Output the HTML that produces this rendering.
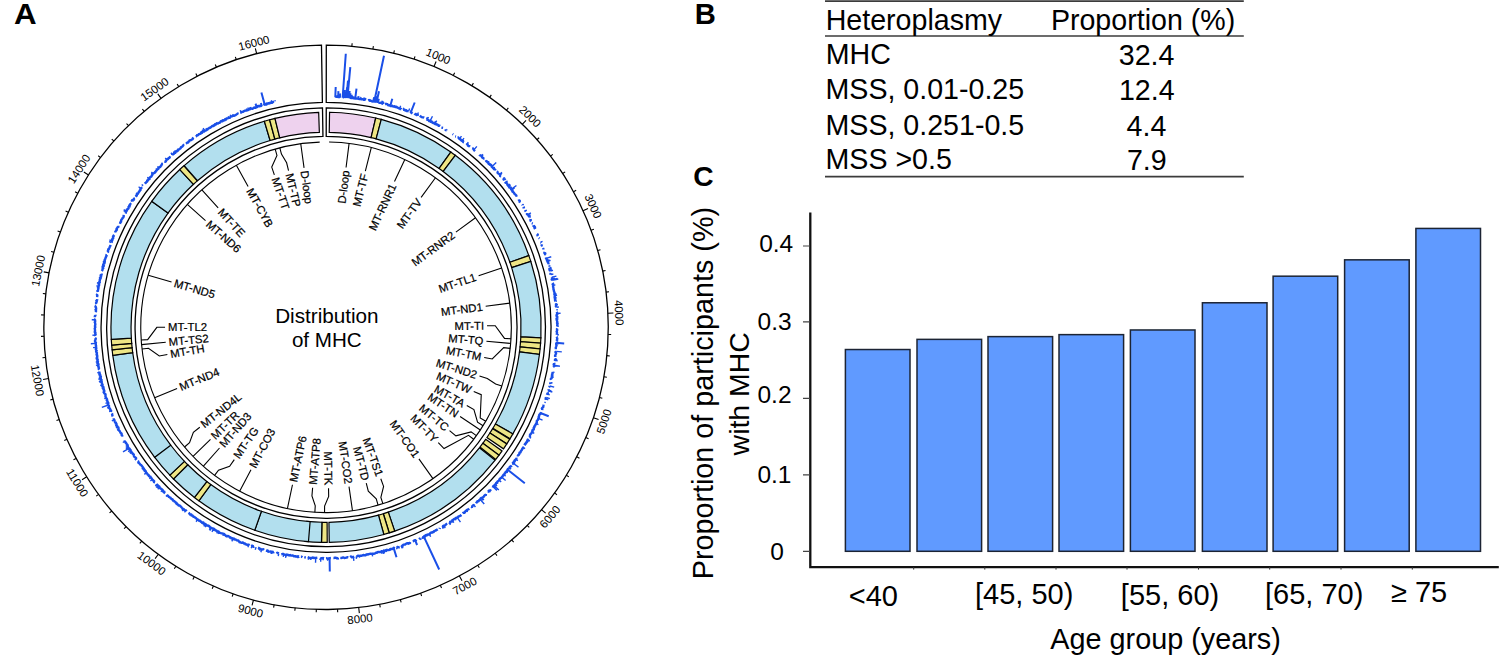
<!DOCTYPE html>
<html><head><meta charset="utf-8"><title>Figure</title>
<style>
html,body{margin:0;padding:0;background:#fff;}
body{width:1500px;height:655px;overflow:hidden;}
svg{display:block;font-family:"Liberation Sans",sans-serif;}
</style></head><body>
<svg width="1500" height="655" viewBox="0 0 1500 655">
<rect width="1500" height="655" fill="#fff"/>
<text transform="translate(14.059 23.8) scale(1.06 1)" font-size="29.6" font-weight="bold">A</text>
<path d="M351.859,46.283L352.133,43.295M372.907,49.017L373.405,46.059M393.69,53.326L394.409,50.414M414.091,59.185L415.027,56.335M433.993,66.56L436.097,61.479M453.285,75.411L454.638,72.733M471.857,85.686L473.407,83.118M489.604,97.329L491.343,94.884M506.426,110.272L508.344,107.965M522.228,124.443L526.051,120.489M536.92,139.761L539.161,137.767M550.419,156.14L552.804,154.321M562.648,173.488L565.163,171.853M573.539,191.706L576.17,190.264M583.031,210.691L588.039,208.418M591.068,230.335L593.885,229.304M597.606,250.528L600.493,249.712M602.608,271.155L605.549,270.558M606.046,292.1L609.023,291.726M607.9,313.244L613.393,312.97M608.159,334.468L611.158,334.544M606.822,355.65L609.807,355.952M603.897,376.673L606.851,377.198M599.401,397.416L602.306,398.162M593.357,417.763L598.567,419.526M585.802,437.598L588.564,438.77M576.778,456.809L579.443,458.186M566.335,475.287L568.889,476.86M554.532,492.928L556.961,494.689M541.437,509.632L545.635,513.186M527.124,525.305L529.262,527.41M511.673,539.858L513.647,542.117M495.173,553.208L496.97,555.61M477.715,565.28L479.327,567.81M459.399,576.006L461.998,580.853M440.33,585.325L441.544,588.068M420.613,593.185L421.619,596.011M400.362,599.54L401.152,602.434M379.69,604.355L380.261,607.3M358.715,607.603L359.352,613.066M337.555,609.265L337.678,612.263M316.33,609.333L316.227,612.331M295.16,607.804L294.832,610.786M274.165,604.689L273.613,607.638M253.463,600.005L252.049,605.32M233.172,593.778L232.185,596.611M213.406,586.044L212.209,588.794M194.278,576.846L192.877,579.498M175.895,566.236L174.299,568.776M158.361,554.274L155.093,558.698M141.776,541.029L139.817,543.301M126.234,526.574L124.109,528.693M111.821,510.993L109.544,512.945M98.621,494.372L96.203,496.148M86.707,476.806L82.043,479.719M76.148,458.394L73.491,459.787M67.001,439.24L64.248,440.43M59.321,419.454L56.485,420.433M53.149,399.146L50.248,399.91M48.521,378.431L43.112,379.428M45.463,357.428L42.48,357.748M43.992,336.254L40.994,336.349M44.117,315.029L41.12,314.899M45.837,293.874L42.858,293.518M49.142,272.907L43.745,271.847M54.013,252.249L51.121,251.451M60.423,232.015L57.599,231.002M68.336,212.32L65.596,211.098M77.707,193.276L75.067,191.851M88.483,174.989L83.852,172.021M100.602,157.565L98.205,155.76M113.997,141.1L111.743,139.121M128.592,125.689L126.493,123.546M144.303,111.418L142.371,109.123M161.043,98.369L157.827,93.907M178.716,86.614L177.15,84.056M197.223,76.222L195.853,73.552M216.458,67.249L215.293,64.485M236.313,59.748L235.359,56.904M256.676,53.76L255.324,48.429" stroke="#000" stroke-width="1.1" fill="none"/>
<text x="438.277" y="56.212" font-size="11.4" text-anchor="middle" dy="0.35em" transform="rotate(22.489 438.277 56.212)">1000</text>
<text x="530.014" y="116.392" font-size="11.4" text-anchor="middle" dy="0.35em" transform="rotate(44.041 530.014 116.392)">2000</text>
<text x="593.23" y="206.063" font-size="11.4" text-anchor="middle" dy="0.35em" transform="rotate(65.593 593.23 206.063)">3000</text>
<text x="619.086" y="312.686" font-size="11.4" text-anchor="middle" dy="0.35em" transform="rotate(87.145 619.086 312.686)">4000</text>
<text x="603.966" y="421.353" font-size="11.4" text-anchor="middle" dy="0.35em" transform="rotate(-71.303 603.966 421.353)">5000</text>
<text x="549.986" y="516.869" font-size="11.4" text-anchor="middle" dy="0.35em" transform="rotate(-49.751 549.986 516.869)">6000</text>
<text x="464.692" y="585.877" font-size="11.4" text-anchor="middle" dy="0.35em" transform="rotate(-28.199 464.692 585.877)">7000</text>
<text x="360.012" y="618.728" font-size="11.4" text-anchor="middle" dy="0.35em" transform="rotate(-6.647 360.012 618.728)">8000</text>
<text x="250.582" y="610.828" font-size="11.4" text-anchor="middle" dy="0.35em" transform="rotate(-345.095 250.582 610.828)">9000</text>
<text x="151.706" y="563.283" font-size="11.4" text-anchor="middle" dy="0.35em" transform="rotate(-323.543 151.706 563.283)">10000</text>
<text x="77.208" y="482.739" font-size="11.4" text-anchor="middle" dy="0.35em" transform="rotate(-301.991 77.208 482.739)">11000</text>
<text x="37.506" y="380.461" font-size="11.4" text-anchor="middle" dy="0.35em" transform="rotate(-280.439 37.506 380.461)">12000</text>
<text x="38.152" y="270.749" font-size="11.4" text-anchor="middle" dy="0.35em" transform="rotate(-78.887 38.152 270.749)">13000</text>
<text x="79.054" y="168.944" font-size="11.4" text-anchor="middle" dy="0.35em" transform="rotate(-57.335 79.054 168.944)">14000</text>
<text x="154.494" y="89.283" font-size="11.4" text-anchor="middle" dy="0.35em" transform="rotate(-35.783 154.494 89.283)">15000</text>
<text x="253.923" y="42.904" font-size="11.4" text-anchor="middle" dy="0.35em" transform="rotate(-14.231 253.923 42.904)">16000</text>
<path d="M335.157,96.527 L335.963,96.547 L336.756,96.864 L337.591,96.295 L338.359,97.038 L339.16,97.131 L340.001,96.567 L340.798,96.743M342.795,97.082 L343.591,97.234 L344.428,96.877 L345.255,96.667 L346.045,96.908 L346.79,97.627M349.384,97.984 L350.233,97.6 L350.992,98.08 L351.814,97.973 L352.694,97.375 L353.394,98.326 L354.202,98.347 L355.003,98.433 L355.792,98.609 L356.611,98.563 L357.414,98.637 L358.224,98.658 L358.98,99.063 L359.8,99.023 L360.602,99.105 L361.39,99.279 L362.219,99.197 L363.034,99.204 L363.762,99.75 L364.572,99.789 L365.483,99.244 L366.269,99.44M368.138,100.433 L369.039,100.006 L369.709,100.794 L370.574,100.571 L371.31,101.001 L372.047,101.419 L372.844,101.538 L373.738,101.202 L374.593,101.058 L375.34,101.424 L375.982,102.255M378.545,102.781 L379.343,102.905 L380.18,102.868 L381.051,102.699 L381.739,103.276 L382.456,103.728 L383.225,103.972M384.99,104.38 L385.975,103.815 L386.716,104.165 L387.522,104.278 L388.083,105.273 L388.912,105.298 L389.793,105.15 L390.399,105.953 L391.226,105.995 L392.128,105.786 L392.805,106.336 L393.606,106.471 L394.51,106.279 L395.112,107.058 L396.038,106.804 L396.842,106.942 L397.456,107.665 L398.211,107.951 L398.945,108.298 L399.753,108.423 L400.384,109.071 L401.232,109.079M403.11,109.811 L403.939,109.884 L404.82,109.818 L405.37,110.665 L406.22,110.688 L406.932,111.087 L407.781,111.12 L408.598,111.24M410.263,112.523 L411.18,112.395 L411.815,112.98 L412.471,113.507M414.454,113.453 L415.06,114.097 L415.948,114.066 L416.368,115.142 L417.379,114.829 L417.84,115.795M419.877,115.667 L420.484,116.289 L421.179,116.71 L421.856,117.171 L422.64,117.396 L423.517,117.42 L424.27,117.719M426.454,119.234 L427.17,119.605 L427.9,119.948 L428.644,120.263 L429.144,121.066 L430.264,120.632 L430.609,121.737 L431.679,121.415 L432.071,122.415 L432.757,122.841 L433.516,123.128 L434.288,123.391 L434.889,123.975 L435.792,123.998 L436.445,124.485 L437.257,124.68 L438.07,124.877 L438.475,125.81 L439.506,125.62 L440.219,125.999M441.401,127.586 L442.25,127.729 L443.082,127.903M445.325,129.263 L445.722,130.165 L446.611,130.254M452.55,134.061 L453.227,134.5M455.167,136.308 L456.012,136.497M457.486,137.553 L458.464,137.56 L458.949,138.274 L459.476,138.925 L460.366,139.065 L460.667,140.03 L461.458,140.309 L462.001,140.933 L463.067,140.842 L463.218,141.995 L464.014,142.275M466.529,143.295 L467.025,143.975 L467.65,144.487 L467.864,145.525 L468.527,145.983 L469.44,146.127 L470.082,146.615M472.186,148.183 L472.982,148.485 L473.553,149.063 L473.901,149.906 L474.444,150.513 L475.033,151.065M479.4,154.638 L479.878,155.313 L480.798,155.495 L481.46,155.967 L481.814,156.777 L482.184,157.565 L483,157.868 L483.566,158.444 L484.55,158.573M485.869,160.117 L486.096,161.045 L486.899,161.375 L487.196,162.225 L488.28,162.271 L488.402,163.296 L488.854,163.983 L489.83,164.148 L490.183,164.934 L491.014,165.247 L491.624,165.779 L491.759,166.773 L492.431,167.244 L492.957,167.856 L493.945,168.03 L493.9,169.182 L494.792,169.449 L495.147,170.22M496.656,171.569 L497.486,171.906 L497.615,172.876 L498.238,173.4 L498.958,173.839 L499.722,174.242 L500.057,175.022 L500.055,176.093 L501.166,176.197M502.691,178.344 L503.454,178.757 L503.712,179.592 L504.309,180.145M505.166,181.788 L505.481,182.57 L506.294,182.949 L507.177,183.277 L507.241,184.255 L507.571,185.021 L508.016,185.695 L509.232,185.772 L509.013,186.958 L509.45,187.637 L510.654,187.736 L510.909,188.554 L511.196,189.347 L511.742,189.945 L512.582,190.329 L512.329,191.513 L513.041,191.991 L513.737,192.483 L514.141,193.185 L514.521,193.904 L515.169,194.434 L515.818,194.965 L516.363,195.57 L516.11,196.724M518.915,199.451 L518.991,200.368 L519.789,200.81 L519.616,201.885 L520.042,202.568M521.986,204.437 L522.478,205.082M523.407,206.88 L523.697,207.648 L523.813,208.519M525.129,210.08 L525.352,210.884 L525.892,211.502M527.076,213.148 L526.991,214.122 L527.9,214.536 L528.344,215.213 L528.688,215.945 L529.267,216.548 L529.492,217.345M530.612,219.036 L530.446,220.035 L530.608,220.859 L531.055,221.535M531.747,223.215 L532.77,223.602M533.574,225.231 L533.538,226.146 L534.221,226.711 L534.535,227.455 L534.595,228.32 L535.091,228.977M536.983,233.871 L537.774,234.404 L537.473,235.415 L537.893,236.11M538.8,237.912 L539.539,238.477M540.572,242.191 L541.373,242.742M541.985,244.453 L541.671,245.436 L542.674,245.919M542.965,247.963 L543.336,248.687 L543.321,249.549M544.684,251.847 L544.298,252.832 L545.324,253.336 L544.982,254.301 L545.828,254.871M546.088,257.542 L546.038,258.402 L546.667,259.05 L547.245,259.716 L546.958,260.646 L547.887,261.21 L547.706,262.105 L548.254,262.786 L548.47,263.564 L548.395,264.425M549.514,267.883 L549.451,268.734 L549.442,269.569 L549.722,270.328 L550.368,270.997M550.911,272.942 L550.451,273.881 L550.666,274.658M551.85,277.076 L552.083,277.851 L552.157,278.662 L551.681,279.588 L552.219,280.298M552.47,282.919 L553.054,283.627 L552.638,284.527 L553.217,285.238 L553.123,286.075 L553.071,286.902 L553.367,287.668 L553.445,288.471 L553.429,289.291 L553.906,290.028 L553.833,290.856 L554.136,291.623 L554.415,292.396 L554.701,293.169 L554.314,294.041 L554.489,294.829 L555.147,295.551 L554.696,296.426 L554.618,297.249 L555.255,297.979 L554.805,298.848 L555.324,299.595 L555.053,300.439 L555.613,301.185M556.107,303.161 L556.135,303.969 L555.962,304.797 L556.187,305.586 L555.919,306.421 L556.377,307.189M556.587,311.826 L557.055,312.605 L557.109,313.411 L557.036,314.224 L556.534,315.059 L556.485,315.869 L557.299,316.637 L557.252,317.448 L556.551,318.284 L556.617,319.087 L556.678,319.891 L556.936,320.689 L557.237,321.488 L557.123,322.298 L557.052,323.107 L557.474,323.907 L557.277,324.717 L557.193,325.525 L557.276,326.331M557.386,328.35 L556.924,329.154 L557.204,329.963 L557.012,330.767 L556.638,331.566 L556.973,332.379 L557.023,333.187 L556.83,333.988 L556.963,334.799M556.699,336.806 L556.95,337.624 L557.257,338.446 L557.16,339.25 L556.865,340.043 L556.388,340.823M556.956,342.88 L556.193,343.635 L556.263,344.448 L556.593,345.282 L556.265,346.065 L556.029,346.854 L555.772,347.64 L555.85,348.456 L555.803,349.261M556.191,351.326 L555.404,352.054 L556.08,352.939 L555.977,353.741 L555.564,354.505 L555.126,355.265 L555.131,356.077 L555.154,356.893M554.679,358.659 L555.219,359.548 L555.028,360.337 L554.946,361.141M554.109,362.85 L554.352,363.705 L553.704,364.417 L553.971,365.277 L553.808,366.068 L553.32,366.802M553.041,372.081 L552.532,372.802 L552.576,373.634 L552.032,374.345 L552.371,375.241 L551.789,375.942 L552.019,376.817 L551.687,377.571 L551.429,378.339 L550.809,379.024 L551.112,379.922M550.855,382.559 L550.216,383.232 L550.374,384.104M549.769,386.033 L549.386,386.767 L548.957,387.487M548.905,389.355 L548.732,390.145 L547.925,390.754M547.511,392.522 L547.787,393.445 L547.163,394.1 L546.93,394.872M546.275,397.413 L545.719,398.082 L545.737,398.935 L545.84,399.818M543.498,404.559 L543.443,405.395 L543.33,406.212 L543.307,407.063 L542.533,407.637 L541.877,408.252 L542.262,409.258 L542.225,410.109M540.648,412.309 L540.74,413.213 L540.257,413.889 L539.58,414.484 L539.151,415.178 L539.131,416.041 L538.713,416.739 L538.905,417.695 L538.29,418.31 L538.224,419.16 L537.876,419.889 L537.1,420.428 L536.741,421.15 L536.864,422.088 L536.754,422.924 L536.071,423.5 L535.902,424.31 L535.317,424.927 L535.139,425.734 L534.281,426.22 L534.44,427.189 L533.693,427.723 L533.868,428.704 L533.738,429.54 L532.607,429.881 L532.344,430.649 L532.61,431.686 L531.865,432.213 L531.675,433.022 L531.076,433.621 L530.475,434.216 L529.992,434.872 L529.984,435.779 L529.925,436.663 L529.586,437.398M528.661,439.194 L527.798,439.638 L527.448,440.366 L527.11,441.101 L527.092,442.019 L526.177,442.425 L526.178,443.357 L525.222,443.734 L524.783,444.409 L524.448,445.147M523.887,446.925 L523.142,447.417 L522.819,448.164 L522.423,448.867 L521.904,449.493 L521.674,450.3 L520.996,450.826 L520.705,451.596 L520.513,452.431 L519.505,452.739 L519.381,453.62 L519.151,454.434 L518.47,454.95 L517.891,455.532 L517.914,456.519M516.289,457.608 L516.355,458.632 L516.039,459.395 L515.226,459.812 L514.637,460.383 L514.705,461.419 L513.768,461.742 L513.545,462.576 L512.829,463.053 L512.2,463.591M511.724,465.496 L511.199,466.112 L510.368,466.497 L509.628,466.947 L509.677,467.998 L508.97,468.472 L508.107,468.824 L507.591,469.442 L507.441,470.348 L506.734,470.817 L506.813,471.911 L505.643,472.007 L505.421,472.863 L504.656,473.28 L504.562,474.245 L503.676,474.558 L503.274,475.272 L502.778,475.908 L502.364,476.613 L501.725,477.128 L501.403,477.915 L500.534,478.229 L499.956,478.794 L499.396,479.374 L499.24,480.31 L498.544,480.771 L497.808,481.194 L497.304,481.823 L497.249,482.861 L496.125,482.927 L495.939,483.85 L495.284,484.342 L494.723,484.921 L494.417,485.739 L493.4,485.888 L493.054,486.67 L492.831,487.573M490.911,489.365 L490.452,490.046 L489.874,490.61 L488.765,490.641 L488.542,491.56 L487.597,491.748M486.037,493.9 L485.754,494.772 L485.012,495.162 L484.419,495.71 L483.981,496.423 L483.43,497.017 L482.671,497.385 L482.062,497.915 L481.066,498.019 L480.508,498.602 L480.404,499.693 L479.534,499.93 L478.942,500.478 L478.563,501.268 L477.403,501.166 L477.032,501.967 L476.471,502.551 L476.064,503.317M474.178,504.207 L473.777,504.986 L473.031,505.348 L472.56,506.046 L472.12,506.783 L471.066,506.764M469.096,508.492 L468.547,509.099 L467.83,509.49 L467.071,509.825 L466.787,510.778 L465.8,510.815 L465.253,511.426 L464.899,512.297 L464.357,512.921 L463.227,512.752 L462.646,513.321M461.402,515.039 L460.675,515.412 L460.005,515.863 L459.29,516.249 L458.402,516.389 L457.938,517.133 L457.294,517.621 L456.395,517.735 L455.619,518.027 L455.429,519.184 L454.244,518.867 L453.681,519.473 L452.98,519.872 L452.307,520.314 L452.086,521.453 L451.174,521.528 L450.249,521.579 L450.02,522.72 L448.947,522.532M447.272,523.651 L446.531,523.983 L445.845,524.406 L445.391,525.212 L444.68,525.595 L443.782,525.662 L443.058,526.02 L442.807,527.186 L441.917,527.261M439.902,527.798 L439.577,528.861M437.714,529.246 L437.044,529.699 L436.288,529.996 L435.589,530.397 L434.917,530.848 L434.172,531.163 L433.747,532.085 L432.765,531.949 L432.221,532.651 L431.232,532.491 L430.578,532.981 L429.929,533.481 L429.485,534.397 L428.669,534.57 L427.768,534.565 L427.202,535.245 L426.159,534.941 L425.456,535.335 L425.077,536.416 L424.119,536.275 L423.643,537.163 L422.884,537.445 L421.972,537.392M420.43,538.387 L419.634,538.584 L418.99,539.124M416.349,539.619 L415.816,540.428 L414.84,540.186 L414.148,540.619 L413.465,541.078 L412.721,541.387M410.263,542.296 L409.633,542.902 L408.903,543.251 L408.03,543.226 L407.126,543.115 L406.487,543.704 L405.713,543.934 L405.046,544.459 L404.247,544.62 L403.412,544.678 L402.868,545.558 L402.139,545.922 L401.132,545.477M398.579,546.095 L398.063,547.105 L397.253,547.224 L396.541,547.646M394.845,548.311 L393.813,547.703 L393.259,548.651 L392.507,548.954 L391.635,548.852 L390.84,549.009 L390.072,549.254 L389.387,549.795 L388.633,550.094 L387.8,550.113 L386.88,549.811 L386.121,550.088 L385.368,550.392 L384.733,551.147 L383.74,550.531 L383.159,551.512 L382.349,551.601 L381.414,551.181 L380.784,551.998 L379.953,551.994 L379.15,552.106 L378.259,551.833 L377.521,552.214 L376.838,552.847 L375.959,552.611 L375.26,553.188 L374.522,553.594 L373.737,553.786 L372.91,553.777 L372.069,553.693 L371.281,553.865 L370.435,553.741 L369.643,553.886 L368.873,554.149 L368.132,554.577 L367.266,554.324 L366.454,554.355 L365.771,555.126 L365.005,555.436 L364.143,555.179 L363.291,554.964 L362.553,555.45 L361.783,555.749 L360.974,555.794 L360.144,555.702 L359.422,556.336 L358.526,555.773 L357.709,555.745 L356.994,556.465 L356.185,556.509M354.15,556.486 L353.389,556.909 L352.588,557.014 L351.807,557.288 L350.906,556.478 L350.164,557.115M348.371,557.428 L347.542,557.235 L346.756,557.494 L345.965,557.714 L345.17,557.888 L344.366,557.972 L343.523,557.539 L342.712,557.494 L341.933,557.909 L341.128,557.961 L340.316,557.898M338.292,557.82 L337.513,558.38 L336.701,558.302 L335.865,557.643 L335.062,557.69 L334.267,557.993 L333.459,557.937M330.844,558.075 L330.037,558.04 L329.235,558.273 L328.433,558.681 L327.624,558.601 L326.816,558.259 L326.01,558.369M323.993,558.337 L323.191,557.998 L322.381,558.285 L321.577,558.161 L320.761,558.574 L319.952,558.63M317.361,557.664 L316.55,557.816 L315.74,557.907 L314.936,557.846 L314.118,558.062 L313.331,557.673 L312.532,557.554 L311.71,557.794 L310.874,558.217 L310.083,557.954 L309.266,558.063 L308.509,557.361 L307.72,557.133M305.869,557.511 L305.071,557.379 L304.279,557.189M302.445,557.287 L301.686,556.799 L300.877,556.783M298.869,556.611 L298.107,556.197 L297.211,556.876 L296.465,556.341 L295.617,556.606 L294.867,556.129 L294.019,556.375 L293.291,555.76 L292.531,555.39 L291.687,555.596 L290.875,555.569 L290.137,555.077 L289.264,555.433 L288.53,554.923 L287.713,554.93 L286.969,554.502 L286.017,555.267 L285.249,554.972 L284.518,554.483 L283.699,554.478 L283.004,553.815 L282.132,554.086 L281.28,554.238M278.74,553.563 L278.018,553.081 L277.279,552.685 L276.339,553.21M273.932,551.975 L273.072,552.116 L272.337,551.721 L271.47,551.878 L270.742,551.46 L269.879,551.588 L269.034,551.636 L268.264,551.387 L267.654,550.525 L266.757,550.768 L265.996,550.49M264.061,549.919 L263.413,549.248 L262.517,549.451 L261.718,549.31 L260.939,549.099 L260.225,548.669 L259.305,548.928 L258.746,547.991 L257.995,547.695M254.358,546.513 L253.384,546.893 L252.816,546.046 L252.087,545.689 L251.092,546.109M249.481,545.214 L248.815,544.68 L247.924,544.781 L247.045,544.838 L246.366,544.343 L245.539,544.251 L244.998,543.392 L244.1,543.488 L243.456,542.915 L242.805,542.364 L241.78,542.773 L240.995,542.564 L240.269,542.202 L239.607,541.684 L238.894,541.296 L238.338,540.527 L237.495,540.46 L236.703,540.264 L236.032,539.781 L235.32,539.399 L234.434,539.417 L233.916,538.588 L232.781,539.17 L232.35,538.15 L231.359,538.391 L230.845,537.568 L229.935,537.62 L229.449,536.748 L228.697,536.456 L228.038,535.963 L227.013,536.248 L226.182,536.115 L225.674,535.307 L224.91,535.035 L224.378,534.29 L223.693,533.86 L222.928,533.589 L222.111,533.421 L221.218,533.399 L220.566,532.902 L219.669,532.881 L219.11,532.205 L218.568,531.504 L217.74,531.346 L216.947,531.118 L216.422,530.391 L215.468,530.458 L214.914,529.79 L214.269,529.29 L213.7,528.656 L212.829,528.563 L212.117,528.185 L211.196,528.171 L210.698,527.418 L209.867,527.244 L209.44,526.375 L208.829,525.827 L208.089,525.496 L207.136,525.519 L206.373,525.221 L205.85,524.529 L205.299,523.885 L204.224,524.092 L203.657,523.475 L203.337,522.468 L202.169,522.806 L201.702,522.037 L200.919,521.763 L200.417,521.054 L199.718,520.65 L198.844,520.511 L198.426,519.681 L197.416,519.742 L196.955,518.979 L196.281,518.536 L195.728,517.915 L195.062,517.462 L194.432,516.956 L193.514,516.862 L193.092,516.06 L192.474,515.537 L191.466,515.563 L191.279,514.439 L190.172,514.595 L189.597,514.012 L189.187,513.208 L188.576,512.679M186.313,511.33 L186.011,510.398 L185.042,510.337 L184.444,509.791 L183.838,509.257 L183.007,509.01 L182.453,508.41 L181.9,507.809 L181.399,507.145 L180.775,506.636 L180.313,505.927 L179.638,505.482 L178.579,505.498 L178.085,504.831 L177.571,504.188 L176.685,503.987 L176.554,502.895 L175.642,502.722 L175.338,501.839 L174.475,501.606 L174.052,500.864 L173.146,500.674 L172.767,499.886 L172.357,499.136 L171.419,498.975 L170.826,498.428 L170.449,497.645 L169.678,497.294 L168.932,496.913 L168.42,496.278 L167.94,495.611 L167.068,495.36 L166.479,494.807M165.061,493.37 L164.425,492.866 L164.354,491.786 L163.236,491.771 L162.846,491.017 L162.691,490.033 L162.141,489.445 L161.378,489.067 L160.737,488.566 L159.907,488.248 L159.662,487.362 L159.346,486.55 L158.121,486.603 L158.021,485.587 L157.48,484.99 L156.835,484.489 L156.39,483.803M155.056,482.294 L154.028,482.135 L154.138,480.953 L153.401,480.531 L152.813,479.975 L152.167,479.47 L151.81,478.711 L151.332,478.059 L150.785,477.467 L150.474,476.674 L149.63,476.334 L148.849,475.936 L148.671,475.034 L147.81,474.7 L147.348,474.035 L146.986,473.289 L146.256,472.842 L145.907,472.087 L145.846,471.104 L144.64,471.032 L144.772,469.901 L143.809,469.631 L143.889,468.548 L142.706,468.443 L142.849,467.317 L142.377,466.665 L141.914,466.006 L141.374,465.405 L140.877,464.772 L139.957,464.45 L139.691,463.644 L139.066,463.102 L138.34,462.631 L138.408,461.589 L137.645,461.143M136.333,459.846 L135.862,459.189 L136.113,458.035 L135.358,457.576 L134.792,456.986 L134.068,456.501 L133.873,455.66 L133.815,454.731 L133.34,454.08 L132.456,453.695 L132.325,452.819 L131.382,452.466 L131.303,451.559 L130.723,450.972 L130.605,450.092 L129.801,449.644 L129.678,448.771 L128.9,448.303 L128.396,447.665 L128.062,446.923 L127.774,446.154 L127.673,445.275 L127.226,444.603 L126.644,444.01 L126.294,443.281 L125.598,442.751 L125.388,441.941 L124.784,441.356 L124.835,440.402M122.082,436.621 L122.232,435.626 L121.626,435.035 L121.68,434.097 L121.349,433.361 L120.508,432.889 L120.188,432.147 L119.988,431.344 L119.306,430.785 L118.77,430.15 L118.494,429.385 L118.521,428.474 L118.422,427.627 L117.604,427.126 L117.395,426.332 L116.597,425.816 L116.384,425.024 L116.636,424.019 L115.684,423.569 L115.93,422.57 L114.967,422.12 L114.721,421.345 L114.506,420.558 L114.276,419.778 L113.785,419.111 L113.718,418.262M112.764,416.476 L112.432,415.74 L112.238,414.947 L112.215,414.086 L111.844,413.367M110.801,411.829 L111.149,410.827 L110.337,410.277 L110.412,409.386 L109.883,408.724 L109.171,408.129 L109.283,407.226 L108.685,406.586 L109.013,405.609 L108.275,405.018 L107.827,404.32 L108.376,403.273 L108.097,402.517 L107.565,401.849 L107.448,401.038 L106.761,400.418 L107.078,399.464 L106.632,398.763 L106.259,398.036 L105.877,397.312 L105.483,396.591 L105.446,395.757 L105.583,394.872 L105.387,394.09 L104.389,393.549 L104.029,392.813 L103.843,392.025 L104.443,391.012 L103.844,390.345 L103.953,389.478 L103.249,388.837 L103.524,387.926 L103.418,387.121 L102.457,386.543 L102.226,385.769 L102.622,384.833 L102.174,384.116 L102.018,383.324 L101.507,382.619 L101.787,381.721 L100.936,381.096 L101.613,380.107 L100.697,379.493 L100.868,378.625 L100.58,377.864 L100.9,376.967 L100.656,376.197 L99.773,375.562 L100.184,374.651 L99.657,373.936 L99.706,373.103 L99.391,372.344 L99.414,371.518M99.385,369.678 L98.693,368.987 L99.003,368.111 L98.524,367.378 L98.648,366.538 L97.972,365.836 L98.472,364.934 L98.472,364.119 L97.806,363.409 L97.593,362.626 L97.949,361.756 L97.299,361.038 L97.66,360.171 L97.688,359.353 L96.697,358.677 L96.705,357.86 L97.348,356.963 L97.07,356.186 L97.228,355.355 L96.575,354.623 L96.763,353.789 L96.961,352.956 L96.425,352.205 L96.118,351.426 L96.719,350.554 L95.933,349.823 L95.777,349.027 L96.355,348.163 L95.899,347.395 L96.057,346.573 L96.081,345.762 L95.735,344.981 L95.811,344.167 L95.591,343.375 L95.935,342.544 L95.152,341.786 L94.962,340.989 L95.236,340.164 L95.595,339.337 L95.773,338.522 L95.042,337.75M95.534,335.914 L95.165,335.121 L95.65,334.299 L95.185,333.507 L95.449,332.694 L94.726,331.903 L95.11,331.089 L94.97,330.285 L94.961,329.478 L94.687,328.673 L95.063,327.864 L95.318,327.058 L94.951,326.251 L95.084,325.446 L95.328,324.642 L95.241,323.835 L95.153,323.028 L94.746,322.213 L95.187,321.416 L95.124,320.608 L94.722,319.788 L95.683,319.014M94.845,317.165 L94.847,316.356 L95.456,315.578 L95.273,314.761M95.807,312.169 L95.991,311.374 L95.958,310.565 L95.944,309.756 L96.093,308.96 L96.118,308.154 L95.665,307.306 L95.492,306.48 L96.381,305.752M96.691,303.962 L96.026,303.083 L96.443,302.316 L96.76,301.541 L96.337,300.681 L97.157,299.966 L97.191,299.159M97.098,297.117 L97.185,296.316 L97.348,295.524 L96.943,294.652 L97.451,293.91M97.973,291.951 L97.818,291.111 L98.008,290.324 L98.138,289.529 L98.3,288.738 L98.498,287.954 L98.494,287.135 L98.368,286.292 L99.047,285.596 L99.004,284.768 L99.18,283.981 L98.998,283.125 L99.766,282.454 L99.351,281.548 L99.781,280.813 L99.863,280.006 L99.784,279.164 L100.683,278.533 L100.052,277.57 L101.042,276.964 L101.14,276.16 L100.589,275.207 L101.643,274.624 L101.342,273.726M101.671,271.106 L102.217,270.412 L102.548,269.665 L102.515,268.824 L103.249,268.184 L102.548,267.162 L102.739,266.376 L103.872,265.852 L103.202,264.828 L103.523,264.079 L104.455,263.507 L103.985,262.532 L104.861,261.949 L104.664,261.049 L104.561,260.175 L104.857,259.421 L105.403,258.745 L105.522,257.937 L105.967,257.232 L106.06,256.415 L106.663,255.763 L106.823,254.967M107.56,252.452 L108.12,251.792 L107.875,250.853 L108.116,250.083 L108.676,249.426 L108.981,248.679 L109.374,247.965 L109.608,247.193 L109.996,246.478 L110.347,245.749 L110.372,244.897M111.372,242.476 L111.905,241.822 L111.493,240.788 L112.358,240.268 L111.997,239.248 L112.902,238.75 L113.274,238.032 L112.945,237.018 L113.461,236.36 L113.825,235.638 L114.485,235.046M115.134,232.466 L115.315,231.662 L115.873,231.029 L116.357,230.364 L116.907,229.731 L116.634,228.711 L117.06,228.02 L117.431,227.302 L118.422,226.884 L118.052,225.808M119.955,223.825 L120.163,223.028 L120.524,222.308 L121.117,221.707 L121.037,220.759 L121.288,219.98 L121.727,219.299 L122.341,218.712 L122.593,217.933 L123.358,217.43 L123.645,216.67 L123.644,215.75 L123.721,214.87M125.405,213.503 L125.82,212.813 L125.956,211.962 L126.075,211.099 L126.886,210.638 L126.743,209.618 L127.642,209.213 L128.297,208.666 L128.625,207.923 L128.479,206.891 L129.592,206.627 L129.497,205.622 L130.029,205.003 L130.233,204.178 L131.274,203.882M132.237,201.388 L132.585,200.652 L132.928,199.911 L134.016,199.664 L133.948,198.65 L134.971,198.367M135.688,196.664 L136.324,196.123 L136.811,195.481 L136.76,194.462 L137.472,193.977 L138.157,193.475 L138.415,192.669 L138.84,191.981 L139.473,191.445 L139.654,190.579 L140.489,190.192 L140.377,189.105 L140.894,188.483 L141.37,187.83 L142.484,187.663M144.953,183.713 L145.552,183.159 L146.004,182.488 L146.571,181.909 L147.301,181.464 L147.202,180.341 L148.182,180.103 L148.4,179.235 L149.499,179.104 L149.32,177.898 L149.962,177.384 L150.691,176.946 L151.406,176.498 L151.681,175.67 L152.225,175.074 L152.499,174.241 L152.999,173.604 L153.776,173.215 L154.656,172.922 L155.057,172.199 L155.704,171.699 L155.967,170.846 L156.66,170.388 L157.208,169.797 L157.743,169.194 L158.445,168.749 L158.752,167.928 L159.175,167.217 L160.228,167.112 L160.553,166.305 L161.137,165.749 L161.457,164.933 L161.972,164.306 L162.75,163.943M164.313,161.793 L165.476,161.832 L165.975,161.19 L166.243,160.305 L166.851,159.774 L167.256,159.027 L168.293,158.952 L168.606,158.108 L169.457,157.84 L169.815,157.038 L170.156,156.215M172.009,155.257 L172.338,154.414 L173.286,154.267 L173.969,153.824 L174.106,152.755 L175.231,152.82 L175.646,152.068 L176.019,151.263 L177.072,151.258 L177.757,150.822 L177.861,149.691 L178.766,149.517 L179.581,149.239 L180.011,148.494 L180.755,148.132 L181.04,147.202 L181.876,146.955 L182.474,146.411 L182.992,145.766 L183.443,145.034 L184.358,144.895M185.745,143.39 L186.589,143.167 L187.172,142.6 L188.114,142.514 L188.448,141.613 L189.28,141.382 L189.534,140.365 L190.327,140.081 L191.249,139.981 L191.916,139.529 L192.637,139.152 L192.911,138.143 L193.477,137.544M195.754,136.222 L196.58,136.002 L197.166,135.428 L197.937,135.13 L198.498,134.517 L199.212,134.135 L200.036,133.92 L200.79,133.603 L201.043,132.507 L202.168,132.77 L202.463,131.73 L203.111,131.242 L204.234,131.518 L204.596,130.572 L205.582,130.638 L206.306,130.278 L206.963,129.809 L207.665,129.415 L208.127,128.615 L208.927,128.385 L209.419,127.63 L210.39,127.696 L210.965,127.081 L211.594,126.555 L212.225,126.033 L213.159,126.048 L213.889,125.703 L214.561,125.255 L215.064,124.496 L215.951,124.438 L216.413,123.596 L217.359,123.654 L218.168,123.46 L218.791,122.916 L219.601,122.726 L220.254,122.236 L220.747,121.432 L221.363,120.862 L222.496,121.316 L222.853,120.227 L223.851,120.425 L224.663,120.253 L225.056,119.219 L226.118,119.563 L226.521,118.54 L227.356,118.416 L228.141,118.192 L228.891,117.893 L229.767,117.87 L230.301,117.101 L230.915,116.501 L231.731,116.347 L232.476,116.039 L233.04,115.316 L234.144,115.829 L234.845,115.423 L235.602,115.146 L236.256,114.623 L236.917,114.116 L237.567,113.577 L238.597,113.961M240.197,112.544 L241.073,112.564 L241.725,112.018 L242.505,111.796 L243.338,111.714 L243.968,111.103 L244.688,110.726 L245.485,110.552 L246.328,110.504 L247.125,110.337 L247.895,110.097 L248.622,109.737 L249.322,109.296 L250.149,109.22 L250.786,108.594 L251.667,108.675 L252.537,108.736 L253.223,108.245 L253.901,107.727 L254.687,107.536 L255.614,107.786 L256.31,107.318 L257.09,107.114 L257.667,106.254 L258.441,106.023 L259.357,106.261 L260.054,105.781 L260.983,106.08 L261.605,105.334M263.378,104.935 L264.088,104.477 L264.829,104.124 L265.786,104.571 L266.621,104.574 L267.162,103.468 L267.976,103.39 L268.868,103.62 L269.517,102.895 L270.403,103.11 L271.068,102.438 L271.989,102.812 L272.681,102.236 L273.64,102.793" fill="none" stroke="#1a4fe8" stroke-width="2.4" stroke-linejoin="round"/>
<path d="M340.001,96.567L340.185,93.513M343.591,97.234L343.68,96.067M346.045,96.908L346.228,94.79M352.694,97.375L352.866,95.892M355.003,98.433L355.29,96.164M360.602,99.105L360.926,96.964M369.709,100.794L369.985,99.363M375.34,101.424L375.568,100.379M383.225,103.972L383.801,101.72M399.753,108.423L400.629,105.821M401.232,109.079L401.646,107.876M403.11,109.811L403.864,107.682M405.37,110.665L405.721,109.706M406.22,110.688L406.756,109.239M408.598,111.24L409.621,108.564M410.263,112.523L411.03,110.568M417.379,114.829L418.413,112.423M417.84,115.795L418.504,114.263M426.454,119.234L427.354,117.368M427.17,119.605L428.457,116.963M430.264,120.632L432.467,116.263M432.757,122.841L433.399,121.61M434.288,123.391L435.442,121.217M434.889,123.975L436.678,120.633M436.445,124.485L437.118,123.248M446.611,130.254L447.207,129.28M459.476,138.925L461.479,136.098M461.458,140.309L462.287,139.164M462.001,140.933L464.007,138.183M467.025,143.975L468.385,142.207M473.901,149.906L476.843,146.377M481.46,155.967L482.971,154.301M481.814,156.777L483.201,155.259M488.28,162.271L489.066,161.471M488.854,163.983L489.682,163.153M490.183,164.934L491.382,163.747M491.014,165.247L491.898,164.378M491.759,166.773L496.241,162.431M493.9,169.182L494.749,168.382M495.147,170.22L496.193,169.249M499.722,174.242L501.924,172.301M500.057,175.022L502.057,173.272M503.454,178.757L505.011,177.453M504.309,180.145L505.924,178.812M505.481,182.57L507.53,180.917M508.016,185.695L510,184.15M509.232,185.772L510.621,184.699M509.45,187.637L510.421,186.898M510.654,187.736L511.711,186.937M511.196,189.347L516.443,185.437M511.742,189.945L514.654,187.791M522.478,205.082L523.785,204.269M523.697,207.648L524.874,206.935M525.352,210.884L526.743,210.071M527.9,214.536L530.914,212.852M528.688,215.945L530.665,214.858M529.492,217.345L530.704,216.69M530.446,220.035L531.58,219.44M533.538,226.146L535.157,225.357M534.535,227.455L536.034,226.737M534.595,228.32L536.181,227.567M540.572,242.191L542.568,241.399M546.038,258.402L551.253,256.769M546.958,260.646L549.587,259.853M547.887,261.21L550.589,260.405M548.433,266.296L550.434,265.747M549.514,267.883L551.332,267.399M549.451,268.734L551.757,268.129M549.722,270.328L552.196,269.698M550.368,270.997L553.005,270.335M550.666,274.658L553.353,274.028M551.85,277.076L556.419,276.06M552.157,278.662L554.819,278.089M551.681,279.588L557.434,278.371M552.219,280.298L558.304,279.033M553.217,285.238L555.38,284.838M554.314,294.041L556.507,293.721M555.147,295.551L557.107,295.279M555.255,297.979L556.548,297.813M555.613,301.185L556.897,301.039M555.962,304.797L557.946,304.603M556.377,307.189L558.879,306.971M556.343,309.822L557.82,309.71M557.109,313.411L560.578,313.202M557.036,314.224L558.488,314.142M556.617,319.087L558.453,319.022M557.052,323.107L558.605,323.078M557.193,325.525L558.307,325.516M557.276,326.331L558.758,326.325M556.963,334.799L558.996,334.865M556.699,336.806L557.747,336.849M556.388,340.823L558.24,340.932M556.193,343.635L558.723,343.815M556.191,351.326L561.833,351.915M555.131,356.077L556.393,356.236M554.679,358.659L556.701,358.936M555.219,359.548L557.292,359.84M555.028,360.337L557.648,360.715M553.971,365.277L559.886,366.263M553.808,366.068L555.435,366.345M553.32,366.802L554.43,366.994M553.041,372.081L554.521,372.373M552.019,376.817L553.732,377.193M551.687,377.571L552.69,377.794M550.855,382.559L552.519,382.968M549.769,386.033L554.186,387.193M548.732,390.145L551.397,390.897M547.925,390.754L552.348,392.019M547.511,392.522L548.594,392.841M547.787,393.445L549.095,393.835M547.163,394.1L549.781,394.891M546.275,397.413L549.853,398.552M545.737,398.935L548.318,399.777M544.403,402.101L545.747,402.562M540.257,413.889L541.381,414.343M538.29,418.31L542.548,420.136M536.071,423.5L538.503,424.613M531.865,432.213L534.306,433.457M529.586,437.398L531.11,438.222M527.798,439.638L529.864,440.788M527.448,440.366L529.452,441.491M524.783,444.409L526.124,445.2M523.142,447.417L525.074,448.594M516.039,459.395L517.9,460.689M513.545,462.576L515.106,463.702M512.829,463.053L518.459,467.144M512.2,463.591L513.643,464.648M509.677,467.998L511.126,469.109M506.813,471.911L507.757,472.666M503.676,474.558L505.581,476.138M501.725,477.128L505.641,480.468M499.24,480.31L501.176,482.021M495.284,484.342L497.025,485.958M494.417,485.739L498.824,489.886M493.4,485.888L495.227,487.619M493.054,486.67L496.931,490.369M488.765,490.641L490.352,492.235M485.754,494.772L486.56,495.616M482.062,497.915L483.908,499.934M481.066,498.019L483.012,500.162M480.404,499.693L484.28,504.023M473.777,504.986L475.471,507.023M471.066,506.764L472.08,508.019M466.787,510.778L467.627,511.873M460.675,515.412L461.361,516.37M457.294,517.621L460.451,522.198M452.307,520.314L453.842,522.661M450.02,522.72L450.705,523.801M448.947,522.532L450.481,524.969M443.782,525.662L445.225,528.093M442.807,527.186L443.499,528.371M436.288,529.996L436.91,531.138M429.485,534.397L430.638,536.704M425.456,535.335L426.065,536.609M424.119,536.275L425.151,538.474M423.643,537.163L424.637,539.3M421.972,537.392L422.614,538.798M420.43,538.387L421.1,539.886M410.263,542.296L410.754,543.549M409.633,542.902L410.153,544.244M408.03,543.226L408.601,544.73M402.139,545.922L402.944,548.233M401.132,545.477L402.074,548.215M398.579,546.095L399.363,548.459M396.541,547.646L397.04,549.207M390.072,549.254L390.468,550.628M386.121,550.088L386.648,552.041M383.74,550.531L384.481,553.401M383.159,551.512L383.749,553.827M381.414,551.181L382.07,553.837M372.069,553.693L372.612,556.363M369.643,553.886L369.851,554.971M363.291,554.964L363.501,556.247M359.422,556.336L359.587,557.466M356.185,556.509L356.501,558.909M353.389,556.909L353.859,560.861M338.292,557.82L338.386,559.577M327.624,558.601L327.639,560.812M323.191,557.998L323.164,560.155M320.761,558.574L320.69,561.675M319.952,558.63L319.916,560.012M315.74,557.907L315.521,562.797M310.874,558.217L310.762,559.924M308.509,557.361L308.328,559.746M298.869,556.611L298.713,557.927M298.107,556.197L297.854,558.272M286.017,555.267L285.545,557.958M283.699,554.478L283.256,556.856M278.74,553.563L278.223,556.034M273.932,551.975L273.632,553.267M272.337,551.721L271.809,553.929M271.47,551.878L270.968,553.944M268.264,551.387L267.921,552.716M261.718,549.31L260.87,552.236M260.225,548.669L259.631,550.668M256.074,547.092L255.239,549.716M252.087,545.689L251.236,548.202M248.815,544.68L247.886,547.296M239.607,541.684L238.931,543.361M234.434,539.417L234.037,540.337M232.781,539.17L231.801,541.396M226.182,536.115L225.719,537.082M224.378,534.29L223.734,535.6M223.693,533.86L222.776,535.708M219.11,532.205L218.207,533.937M217.74,531.346L216.702,533.301M214.269,529.29L213.398,530.865M213.7,528.656L211.948,531.797M211.196,528.171L209.82,530.577M210.698,527.418L209.309,529.827M208.089,525.496L207.539,526.419M206.373,525.221L205.231,527.11M205.299,523.885L203.809,526.311M203.337,522.468L202.223,524.239M199.718,520.65L198.985,521.771M197.416,519.742L196.079,521.741M186.011,510.398L184.493,512.381M183.838,509.257L182.456,511.025M183.007,509.01L181.966,510.333M167.94,495.611L167.248,496.348M167.068,495.36L165.989,496.5M162.691,490.033L160.87,491.847M159.662,487.362L157.729,489.222M159.346,486.55L158.478,487.379M158.121,486.603L156.963,487.702M158.021,485.587L156.052,487.442M156.835,484.489L155.242,485.969M153.401,480.531L152.577,481.262M152.167,479.47L150.399,481.017M150.785,477.467L149.296,478.743M149.63,476.334L148.711,477.11M146.256,472.842L144.31,474.418M135.862,459.189L134.845,459.894M133.34,454.08L132.442,454.67M131.382,452.466L129.88,453.433M131.303,451.559L129.474,452.726M130.605,450.092L128.09,451.672M129.678,448.771L128.075,449.763M128.9,448.303L122.978,451.938M128.396,447.665L125.888,449.192M128.062,446.923L125.828,448.273M127.673,445.275L125.714,446.44M124.784,441.356L122.792,442.485M118.494,429.385L117.039,430.101M117.604,427.126L115.911,427.937M116.384,425.024L115.305,425.527M114.276,419.778L111.811,420.854M111.149,410.827L109.076,411.633M110.412,409.386L109.424,409.762M109.283,407.226L107.202,407.994M108.275,405.018L101.806,407.326M108.097,402.517L105.487,403.418M106.259,398.036L104.252,398.682M103.843,392.025L102.64,392.376M103.524,387.926L101.611,388.447M102.622,384.833L100.174,385.463M101.787,381.721L99.5,382.276M100.936,381.096L98.856,381.593M101.613,380.107L99.827,380.527M100.868,378.625L98.354,379.198M100.58,377.864L98.71,378.283M100.9,376.967L99.094,377.366M99.657,373.936L98.287,374.219M99.391,372.344L97.314,372.757M98.472,364.934L95.913,365.358M97.806,363.409L96.442,363.625M97.949,361.756L95.718,362.093M95.899,347.395L93.046,347.644M95.591,343.375L90.848,343.706M95.165,335.121L92.449,335.213M94.722,319.788L91.748,319.691M95.944,309.756L94.466,309.643M97.818,291.111L96.2,290.854M98.498,287.954L96.812,287.663M98.368,286.292L96.287,285.918M99.18,283.981L97.207,283.604M98.998,283.125L96.898,282.716M103.872,265.852L102.333,265.426M104.861,261.949L102.788,261.336M106.823,254.967L105.392,254.495M108.676,249.426L107.168,248.886M111.372,242.476L109.039,241.555M111.493,240.788L109.329,239.915M113.825,235.638L112.581,235.101M116.907,229.731L115.653,229.146M118.422,226.884L117.335,226.358M120.524,222.308L119.526,221.798M125.956,211.962L123.687,210.654M126.075,211.099L123.661,209.696M129.497,205.622L128.444,204.97M131.274,203.882L130.119,203.15M132.237,201.388L130.786,200.446M132.585,200.652L131.056,199.651M136.324,196.123L135.077,195.261M137.472,193.977L135.983,192.924M140.894,188.483L138.578,186.747M143.169,185.648L141.665,184.483M145.552,183.159L144.57,182.374M149.499,179.104L147.245,177.212M152.499,174.241L151.322,173.203M152.999,173.604L151.327,172.12M155.057,172.199L154.209,171.43M157.208,169.797L155.784,168.469M158.752,167.928L157.333,166.577M162.75,163.943L161.478,162.67M166.851,159.774L165.206,158.042M169.457,157.84L168.701,157.021M172.338,154.414L170.864,152.755M174.106,152.755L173.264,151.788M175.646,152.068L174.372,150.584M196.58,136.002L195.928,135.038M197.166,135.428L196.398,134.285M199.212,134.135L198.564,133.147M203.111,131.242L202.115,129.654M204.596,130.572L203.138,128.21M206.963,129.809L205.899,128.044M213.889,125.703L213.171,124.413M215.064,124.496L214.404,123.29M216.413,123.596L215.913,122.667M217.359,123.654L216.558,122.153M228.891,117.893L228.132,116.258M230.915,116.501L230.152,114.811M241.073,112.564L240.174,110.29M247.125,110.337L246.416,108.388M248.622,109.737L247.825,107.498M250.149,109.22L249.669,107.839M257.09,107.114L256.418,104.967M266.621,104.574L266.094,102.6M271.989,102.812L271.382,100.288M273.64,102.793L273.169,100.775M275.198,101.47L274.89,100.1" fill="none" stroke="#1a4fe8" stroke-width="1.4"/>
<path d="M335.287,97.285L335.7,87M342.624,97.697L345.8,53.7M347.42,98.094L350.3,67.2M346.451,98.006L348,80.6M355.18,98.95L356.5,88.6M374.102,102.171L384,55.8M376.446,102.684L379,91.3M390.153,106.205L392.3,98.8M410.5,113.15L414.7,102.5M264.916,105.366L261.4,92.6M555.726,342.827L564.2,343.4M539.805,412.744L548.7,416.3M507.176,469.376L524.8,483.2M423.485,535.863L439.2,569.5M414.872,539.674L417.1,545M393.469,547.406L396.5,557.3M329.586,557.473L329.8,571.4M338.098,97.415L338.427,91.124M339.702,97.505L339.928,93.712M344.111,97.81L344.723,90.034M345.112,97.891L345.634,91.612M346.113,97.976L347.055,87.217M348.913,98.238L349.638,90.974M349.913,98.34L350.462,93.069M351.311,98.49L351.728,94.713M358.088,99.34L358.547,96.072M364.044,100.257L364.506,97.495M373.125,101.965L374.107,97.266M375.482,102.47L376.835,96.317M377.834,103L378.801,98.81M381.74,103.938L382.539,100.736M261.826,106.24L260.906,103.071M256.828,107.754L255.534,103.653M251.104,109.642L250.193,106.994" fill="none" stroke="#1a4fe8" stroke-width="2.0"/>
<path d="M326.246,102.3 L326.296,45.1 A282.2,282.2 0 0 1 570.163,185.717 A282.2,282.2 0 0 1 571.121,467.218 A282.2,282.2 0 0 1 328.217,609.492 A282.2,282.2 0 0 1 83.157,470.966 A282.2,282.2 0 0 1 79.792,189.483 A282.2,282.2 0 0 1 321.47,45.137 L322.398,102.33 A225,225 0 0 0 129.706,217.417 A225,225 0 0 0 132.39,441.846 A225,225 0 0 0 327.778,552.293 A225,225 0 0 0 521.447,438.858 A225,225 0 0 0 520.683,214.415 A225,225 0 0 0 326.246,102.3 Z" fill="none" stroke="#000" stroke-width="1.3"/>
<path d="M326.217,136.3 L326.241,107.9 A219.4,219.4 0 0 1 515.839,217.224 A219.4,219.4 0 0 1 516.583,436.081 A219.4,219.4 0 0 1 327.735,546.694 A219.4,219.4 0 0 1 137.21,438.995 A219.4,219.4 0 0 1 134.593,220.152 A219.4,219.4 0 0 1 322.489,107.929 L322.95,136.325 A191,191 0 0 0 159.376,234.022 A191,191 0 0 0 161.654,424.536 A191,191 0 0 0 327.517,518.294 A191,191 0 0 0 491.92,422 A191,191 0 0 0 491.272,231.473 A191,191 0 0 0 326.217,136.3 Z" fill="#fff" stroke="#000" stroke-width="1.3"/>
<path d="M329.239,132.326 L329.568,112.229 A215.1,215.1 0 0 1 375.72,118.013 L371.078,137.57 A195,195 0 0 0 329.239,132.326 Z" fill="#eed2ee" stroke="#000" stroke-width="1.2"/>
<path d="M371.078,137.57 L375.72,118.013 A215.1,215.1 0 0 1 381.291,119.414 L376.129,138.84 A195,195 0 0 0 371.078,137.57 Z" fill="#eee685" stroke="#000" stroke-width="1.2"/>
<path d="M376.129,138.84 L381.291,119.414 A215.1,215.1 0 0 1 450.781,152.057 L439.126,168.432 A195,195 0 0 0 376.129,138.84 Z" fill="#b2dfee" stroke="#000" stroke-width="1.2"/>
<path d="M439.126,168.432 L450.781,152.057 A215.1,215.1 0 0 1 455.287,155.353 L443.21,171.42 A195,195 0 0 0 439.126,168.432 Z" fill="#eee685" stroke="#000" stroke-width="1.2"/>
<path d="M443.21,171.42 L455.287,155.353 A215.1,215.1 0 0 1 528.848,255.599 L509.897,262.299 A195,195 0 0 0 443.21,171.42 Z" fill="#b2dfee" stroke="#000" stroke-width="1.2"/>
<path d="M509.897,262.299 L528.848,255.599 A215.1,215.1 0 0 1 530.79,261.348 L511.658,267.511 A195,195 0 0 0 509.897,262.299 Z" fill="#eee685" stroke="#000" stroke-width="1.2"/>
<path d="M511.703,267.65 L530.839,261.502 A215.1,215.1 0 0 1 540.895,337.776 L520.819,336.797 A195,195 0 0 0 511.703,267.65 Z" fill="#b2dfee" stroke="#000" stroke-width="1.2"/>
<path d="M520.819,336.797 L540.895,337.776 A215.1,215.1 0 0 1 540.55,343.348 L520.507,341.849 A195,195 0 0 0 520.819,336.797 Z" fill="#eee685" stroke="#000" stroke-width="1.2"/>
<path d="M520.523,341.629 L540.568,343.106 A215.1,215.1 0 0 1 540.062,348.909 L520.063,346.89 A195,195 0 0 0 520.523,341.629 Z" fill="#eee685" stroke="#000" stroke-width="1.2"/>
<path d="M520.056,346.963 L540.054,348.99 A215.1,215.1 0 0 1 539.429,354.456 L519.49,351.919 A195,195 0 0 0 520.056,346.963 Z" fill="#eee685" stroke="#000" stroke-width="1.2"/>
<path d="M519.49,351.919 L539.429,354.456 A215.1,215.1 0 0 1 512.874,433.906 L495.416,423.944 A195,195 0 0 0 519.49,351.919 Z" fill="#b2dfee" stroke="#000" stroke-width="1.2"/>
<path d="M495.416,423.944 L512.874,433.906 A215.1,215.1 0 0 1 510.086,438.649 L492.889,428.244 A195,195 0 0 0 495.416,423.944 Z" fill="#eee685" stroke="#000" stroke-width="1.2"/>
<path d="M492.623,428.683 L509.792,439.133 A215.1,215.1 0 0 1 506.828,443.864 L489.935,432.972 A195,195 0 0 0 492.623,428.683 Z" fill="#eee685" stroke="#000" stroke-width="1.2"/>
<path d="M489.896,433.034 L506.784,443.932 A215.1,215.1 0 0 1 503.514,448.85 L486.931,437.492 A195,195 0 0 0 489.896,433.034 Z" fill="#eee685" stroke="#000" stroke-width="1.2"/>
<path d="M485.635,439.361 L502.085,450.912 A215.1,215.1 0 0 1 498.962,455.243 L482.804,443.288 A195,195 0 0 0 485.635,439.361 Z" fill="#eee685" stroke="#000" stroke-width="1.2"/>
<path d="M482.848,443.229 L499.01,455.178 A215.1,215.1 0 0 1 495.782,459.432 L479.922,447.085 A195,195 0 0 0 482.848,443.229 Z" fill="#eee685" stroke="#000" stroke-width="1.2"/>
<path d="M479.379,447.778 L495.184,460.197 A215.1,215.1 0 0 1 394.688,531.155 L388.274,512.106 A195,195 0 0 0 479.379,447.778 Z" fill="#b2dfee" stroke="#000" stroke-width="1.2"/>
<path d="M388.274,512.106 L394.688,531.155 A215.1,215.1 0 0 1 389.374,532.868 L383.457,513.658 A195,195 0 0 0 388.274,512.106 Z" fill="#eee685" stroke="#000" stroke-width="1.2"/>
<path d="M383.247,513.723 L389.142,532.939 A215.1,215.1 0 0 1 383.862,534.485 L378.46,515.125 A195,195 0 0 0 383.247,513.723 Z" fill="#eee685" stroke="#000" stroke-width="1.2"/>
<path d="M378.46,515.125 L383.862,534.485 A215.1,215.1 0 0 1 329.239,542.376 L328.941,522.279 A195,195 0 0 0 378.46,515.125 Z" fill="#b2dfee" stroke="#000" stroke-width="1.2"/>
<path d="M327.107,522.297 L327.216,542.397 A215.1,215.1 0 0 1 321.553,542.353 L321.973,522.257 A195,195 0 0 0 327.107,522.297 Z" fill="#eee685" stroke="#000" stroke-width="1.2"/>
<path d="M321.9,522.256 L321.472,542.351 A215.1,215.1 0 0 1 304.758,541.344 L306.748,521.342 A195,195 0 0 0 321.9,522.256 Z" fill="#b2dfee" stroke="#000" stroke-width="1.2"/>
<path d="M310.108,521.647 L308.465,541.68 A215.1,215.1 0 0 1 254.722,530.229 L261.387,511.267 A195,195 0 0 0 310.108,521.647 Z" fill="#b2dfee" stroke="#000" stroke-width="1.2"/>
<path d="M261.456,511.291 L254.798,530.256 A215.1,215.1 0 0 1 198.885,500.785 L210.768,484.574 A195,195 0 0 0 261.456,511.291 Z" fill="#b2dfee" stroke="#000" stroke-width="1.2"/>
<path d="M210.768,484.574 L198.885,500.785 A215.1,215.1 0 0 1 194.49,497.476 L206.783,481.574 A195,195 0 0 0 210.768,484.574 Z" fill="#eee685" stroke="#000" stroke-width="1.2"/>
<path d="M206.783,481.574 L194.49,497.476 A215.1,215.1 0 0 1 173.517,478.963 L187.77,464.791 A195,195 0 0 0 206.783,481.574 Z" fill="#b2dfee" stroke="#000" stroke-width="1.2"/>
<path d="M187.77,464.791 L173.517,478.963 A215.1,215.1 0 0 1 169.854,475.188 L184.45,461.369 A195,195 0 0 0 187.77,464.791 Z" fill="#eee685" stroke="#000" stroke-width="1.2"/>
<path d="M184.45,461.369 L169.854,475.188 A215.1,215.1 0 0 1 154.341,456.853 L170.386,444.747 A195,195 0 0 0 184.45,461.369 Z" fill="#b2dfee" stroke="#000" stroke-width="1.2"/>
<path d="M170.696,445.156 L154.682,457.305 A215.1,215.1 0 0 1 112.784,355.325 L132.712,352.707 A195,195 0 0 0 170.696,445.156 Z" fill="#b2dfee" stroke="#000" stroke-width="1.2"/>
<path d="M132.712,352.707 L112.784,355.325 A215.1,215.1 0 0 1 112.128,349.781 L132.118,347.681 A195,195 0 0 0 132.712,352.707 Z" fill="#eee685" stroke="#000" stroke-width="1.2"/>
<path d="M132.118,347.681 L112.128,349.781 A215.1,215.1 0 0 1 111.682,345.029 L131.713,343.372 A195,195 0 0 0 132.118,347.681 Z" fill="#eee685" stroke="#000" stroke-width="1.2"/>
<path d="M131.713,343.372 L111.682,345.029 A215.1,215.1 0 0 1 111.285,339.298 L131.354,338.177 A195,195 0 0 0 131.713,343.372 Z" fill="#eee685" stroke="#000" stroke-width="1.2"/>
<path d="M131.354,338.177 L111.285,339.298 A215.1,215.1 0 0 1 151.71,201.309 L168.002,213.082 A195,195 0 0 0 131.354,338.177 Z" fill="#b2dfee" stroke="#000" stroke-width="1.2"/>
<path d="M168.002,213.082 L151.71,201.309 A215.1,215.1 0 0 1 179.818,169.553 L193.483,184.293 A195,195 0 0 0 168.002,213.082 Z" fill="#b2dfee" stroke="#000" stroke-width="1.2"/>
<path d="M193.483,184.293 L179.818,169.553 A215.1,215.1 0 0 1 183.961,165.811 L197.239,180.901 A195,195 0 0 0 193.483,184.293 Z" fill="#eee685" stroke="#000" stroke-width="1.2"/>
<path d="M197.459,180.707 L184.204,165.597 A215.1,215.1 0 0 1 264.36,121.236 L270.124,140.492 A195,195 0 0 0 197.459,180.707 Z" fill="#b2dfee" stroke="#000" stroke-width="1.2"/>
<path d="M270.124,140.492 L264.36,121.236 A215.1,215.1 0 0 1 269.494,119.768 L274.779,139.161 A195,195 0 0 0 270.124,140.492 Z" fill="#eee685" stroke="#000" stroke-width="1.2"/>
<path d="M274.92,139.123 L269.65,119.726 A215.1,215.1 0 0 1 274.977,118.351 L279.75,137.876 A195,195 0 0 0 274.92,139.123 Z" fill="#eee685" stroke="#000" stroke-width="1.2"/>
<path d="M279.75,137.876 L274.977,118.351 A215.1,215.1 0 0 1 318.664,112.327 L319.354,132.415 A195,195 0 0 0 279.75,137.876 Z" fill="#eed2ee" stroke="#000" stroke-width="1.2"/>
<path d="M329.08,142.025 A185.3,185.3 0 0 1 487.252,235.921 A185.3,185.3 0 0 1 486.575,419.862 A185.3,185.3 0 0 1 327.717,512.593 A185.3,185.3 0 0 1 167.216,422.735 A185.3,185.3 0 0 1 163.23,238.836 A185.3,185.3 0 0 1 319.687,142.109 " fill="none" stroke="#000" stroke-width="1.1"/>
<path d="M349.094,143.439L346.072,167.55M371.276,147.604L365.345,171.169M404.834,159.582L394.502,181.577M435.479,177.763L421.129,197.373M475.464,217.703L455.87,232.075M501.617,268.036L478.593,275.807M509.76,303.081L485.669,306.257M510.995,338.761L504.508,338.359L495.243,325.726L487.043,325.802M510.648,343.418L486.44,341.304M510.151,348.341L503.694,347.603L492.255,358.993L484.2,357.457M501.793,386.04L495.629,383.979L487.304,378.543L479.489,376.06M485.804,421.188L480.2,417.894L481.253,394.683L473.732,391.418M483.055,425.716L477.547,422.263L473.92,409.538L466.754,405.552M480.332,429.931L460.1,416.472M476.363,435.66L471.091,431.859L455.865,435.821L449.574,430.561M473.669,439.303L468.491,435.374L444.015,448.597L438.298,442.719M432.929,478.67L418.913,458.82M382.862,503.676L380.869,497.489L383.586,486.417L380.798,478.706M378.065,505.15L376.24,498.911L368.295,491.141L366.248,483.201M352.475,510.706L349.01,486.654M324.546,512.594L324.598,506.094L328.668,496.48L328.541,488.281M314.864,512.262L315.256,505.774L311.937,495.91L312.621,487.739M287.402,508.525L292.47,484.759M239.648,491.223L250.979,469.727M214.6,475.337L218.51,470.144L229.616,466.329L234.29,459.592M203.423,466.22L219.504,448.002M193.037,456.31L210.48,439.392M184.568,446.962L189.531,442.765L193.38,432.311L199.809,427.222M154.626,397.656L177.106,388.429M142.028,349.022L148.483,348.26L159.289,355.924L167.371,354.537M141.558,344.586L165.752,342.319M141.191,340.071L147.675,339.623L156.85,327.3L165.05,327.3M148.224,275.204L171.544,282.036M187.318,204.461L205.511,220.57M201.877,189.76L218.161,207.797M236.353,165.156L248.116,186.42M275.181,149.119L276.965,155.369L271.736,167.055L274.368,174.821M279.822,147.859L281.444,154.153L286.626,162.757L288.537,170.731M300.737,143.737L304.056,167.809" fill="none" stroke="#000" stroke-width="1.1"/>
<g font-size="11.3" stroke="#000" stroke-width="0.22"><text x="345.699" y="170.527" dy="0.35em" text-anchor="end" transform="rotate(-82.856 345.699 170.527)">D-loop</text><text x="364.613" y="174.078" dy="0.35em" text-anchor="end" transform="rotate(-75.873 364.613 174.078)">MT-TF</text><text x="393.227" y="184.292" dy="0.35em" text-anchor="end" transform="rotate(-64.839 393.227 184.292)">MT-RNR1</text><text x="419.357" y="199.794" dy="0.35em" text-anchor="end" transform="rotate(-53.804 419.357 199.794)">MT-TV</text><text x="453.451" y="233.85" dy="0.35em" text-anchor="end" transform="rotate(-36.261 453.451 233.85)">MT-RNR2</text><text x="475.751" y="276.767" dy="0.35em" text-anchor="end" transform="rotate(-18.653 475.751 276.767)">MT-TL1</text><text x="482.695" y="306.649" dy="0.35em" text-anchor="end" transform="rotate(-7.51 482.695 306.649)">MT-ND1</text><text x="484.043" y="325.83" dy="0.35em" text-anchor="end" transform="rotate(-0.533 484.043 325.83)">MT-TI</text><text x="483.451" y="341.043" dy="0.35em" text-anchor="end" transform="rotate(4.99 483.451 341.043)">MT-TQ</text><text x="481.253" y="356.895" dy="0.35em" text-anchor="end" transform="rotate(10.796 481.253 356.895)">MT-TM</text><text x="476.63" y="375.151" dy="0.35em" text-anchor="end" transform="rotate(17.629 476.63 375.151)">MT-ND2</text><text x="470.98" y="390.223" dy="0.35em" text-anchor="end" transform="rotate(23.469 470.98 390.223)">MT-TW</text><text x="464.132" y="404.094" dy="0.35em" text-anchor="end" transform="rotate(29.081 464.132 404.094)">MT-TA</text><text x="457.602" y="414.811" dy="0.35em" text-anchor="end" transform="rotate(33.633 457.602 414.811)">MT-TN</text><text x="447.272" y="428.637" dy="0.35em" text-anchor="end" transform="rotate(39.894 447.272 428.637)">MT-TC</text><text x="436.206" y="440.568" dy="0.35em" text-anchor="end" transform="rotate(45.798 436.206 440.568)">MT-TY</text><text x="417.183" y="456.369" dy="0.35em" text-anchor="end" transform="rotate(54.775 417.183 456.369)">MT-CO1</text><text x="379.777" y="475.885" dy="0.35em" text-anchor="end" transform="rotate(70.12 379.777 475.885)">MT-TS1</text><text x="365.499" y="480.296" dy="0.35em" text-anchor="end" transform="rotate(75.542 365.499 480.296)">MT-TD</text><text x="348.582" y="483.685" dy="0.35em" text-anchor="end" transform="rotate(81.801 348.582 483.685)">MT-CO2</text><text x="328.495" y="485.281" dy="0.35em" text-anchor="end" transform="rotate(89.113 328.495 485.281)">MT-TK</text><text x="312.871" y="484.749" dy="0.35em" text-anchor="start" transform="rotate(274.785 312.871 484.749)">MT-ATP8</text><text x="293.096" y="481.825" dy="0.35em" text-anchor="start" transform="rotate(282.039 293.096 481.825)">MT-ATP6</text><text x="252.378" y="467.073" dy="0.35em" text-anchor="start" transform="rotate(297.793 252.378 467.073)">MT-CO3</text><text x="236" y="457.126" dy="0.35em" text-anchor="start" transform="rotate(304.746 236 457.126)">MT-TG</text><text x="221.489" y="445.753" dy="0.35em" text-anchor="start" transform="rotate(311.436 221.489 445.753)">MT-ND3</text><text x="212.634" y="437.303" dy="0.35em" text-anchor="start" transform="rotate(315.875 212.634 437.303)">MT-TR</text><text x="202.162" y="425.36" dy="0.35em" text-anchor="start" transform="rotate(321.638 202.162 425.36)">MT-ND4L</text><text x="179.882" y="387.29" dy="0.35em" text-anchor="start" transform="rotate(337.686 179.882 387.29)">MT-ND4</text><text x="170.327" y="354.03" dy="0.35em" text-anchor="start" transform="rotate(350.26 170.327 354.03)">MT-TH</text><text x="168.739" y="342.039" dy="0.35em" text-anchor="start" transform="rotate(354.647 168.739 342.039)">MT-TS2</text><text x="168.05" y="327.3" dy="0.35em" text-anchor="start" transform="rotate(360 168.05 327.3)">MT-TL2</text><text x="174.423" y="282.879" dy="0.35em" text-anchor="start" transform="rotate(376.329 174.423 282.879)">MT-ND5</text><text x="207.757" y="222.559" dy="0.35em" text-anchor="start" transform="rotate(401.523 207.757 222.559)">MT-ND6</text><text x="220.171" y="210.024" dy="0.35em" text-anchor="start" transform="rotate(407.924 220.171 210.024)">MT-TE</text><text x="249.568" y="189.045" dy="0.35em" text-anchor="start" transform="rotate(421.049 249.568 189.045)">MT-CYB</text><text x="275.331" y="177.662" dy="0.35em" text-anchor="start" transform="rotate(431.276 275.331 177.662)">MT-TT</text><text x="289.236" y="173.649" dy="0.35em" text-anchor="start" transform="rotate(436.526 289.236 173.649)">MT-TP</text><text x="304.466" y="170.781" dy="0.35em" text-anchor="start" transform="rotate(442.148 304.466 170.781)">D-loop</text></g>
<text x="275.144" y="323" font-size="20.7">Distribution</text>
<text x="291.876" y="346.8" font-size="20.6">of MHC</text>
<text x="694.756" y="24.3" font-size="29.2" font-weight="bold">B</text>
<path d="M825 1.1H1243.8M825 36H1243.8M825 176.6H1243.8" stroke="#3c3c3c" stroke-width="1.6"/>
<text x="825.712" y="29.9" font-size="28.6">Heteroplasmy</text>
<text x="1050.879" y="30.3" font-size="28.6">Proportion (%)</text>
<text x="825.712" y="63.9" font-size="28.6">MHC</text>
<text x="825.512" y="98.9" font-size="28.6">MSS, 0.01-0.25</text>
<text x="825.512" y="134.7" font-size="28.6">MSS, 0.251-0.5</text>
<text x="825.512" y="169.4" font-size="28.6">MSS &gt;0.5</text>
<text x="1118.772" y="65.2" font-size="28.6">32.4</text>
<text x="1118.9" y="99.8" font-size="28.6">12.4</text>
<text x="1126.566" y="135.7" font-size="28.6">4.4</text>
<text x="1126.923" y="169.9" font-size="28.6">7.9</text>
<text x="693.172" y="186.3" font-size="28.2" font-weight="bold">C</text>
<rect x="845.4" y="349.528" width="64.6" height="201.772" fill="#609aff" stroke="#1c2434" stroke-width="1.5"/>
<rect x="917" y="339.366" width="64.6" height="211.934" fill="#609aff" stroke="#1c2434" stroke-width="1.5"/>
<rect x="988" y="336.616" width="64.6" height="214.684" fill="#609aff" stroke="#1c2434" stroke-width="1.5"/>
<rect x="1059" y="334.63" width="64.6" height="216.67" fill="#609aff" stroke="#1c2434" stroke-width="1.5"/>
<rect x="1130.4" y="329.969" width="64.6" height="221.331" fill="#609aff" stroke="#1c2434" stroke-width="1.5"/>
<rect x="1202.4" y="302.771" width="64.6" height="248.529" fill="#609aff" stroke="#1c2434" stroke-width="1.5"/>
<rect x="1273.1" y="276.184" width="64.6" height="275.116" fill="#609aff" stroke="#1c2434" stroke-width="1.5"/>
<rect x="1344.6" y="259.834" width="64.6" height="291.466" fill="#609aff" stroke="#1c2434" stroke-width="1.5"/>
<rect x="1415.9" y="228.434" width="64.6" height="322.866" fill="#609aff" stroke="#1c2434" stroke-width="1.5"/>
<path d="M810.3 212.5V567.2H1498.8" fill="none" stroke="#111" stroke-width="2.3"/>
<path d="M803 551.3H810M803 474.9H810M803 398.3H810M803 321.8H810M803 246H810" stroke="#444" stroke-width="1.2"/>
<path d="M913.7 567V569.6M984.8 567V569.6M1056 567V569.6M1127 567V569.6M1198.5 567V569.6M1269.7 567V569.6M1341 567V569.6M1412.3 567V569.6" stroke="#333" stroke-width="1"/>
<text x="770.24" y="559.7" font-size="24.5">0</text>
<text x="757.395" y="482.9" font-size="24.5">0.1</text>
<text x="757.495" y="402.5" font-size="24.5">0.2</text>
<text x="757.572" y="330.2" font-size="24.5">0.3</text>
<text x="759.15" y="251.9" font-size="24.5">0.4</text>
<text x="848.75" y="605.8" font-size="29">&lt;40</text>
<text x="974.97" y="603.7" font-size="29">[45, 50)</text>
<text x="1120.87" y="604.8" font-size="29">[55, 60)</text>
<text x="1264.97" y="603.7" font-size="29">[65, 70)</text>
<text x="1391.03" y="601.7" font-size="29">≥ 75</text>
<text x="1050.3" y="648.7" font-size="28.8">Age group (years)</text>
<text transform="translate(712.7 579.3) rotate(-90)" font-size="28.75">Proportion of participants (%)</text>
<text transform="translate(749.3 455.4) rotate(-90)" font-size="28.45">with MHC</text>
</svg>
</body></html>
